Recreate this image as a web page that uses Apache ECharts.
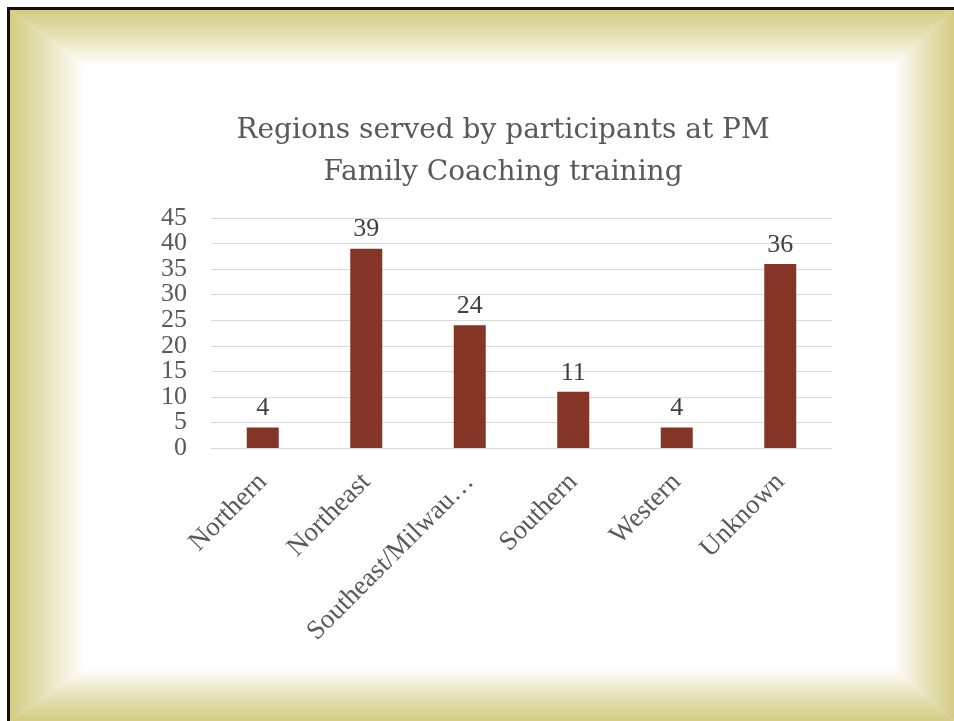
<!DOCTYPE html>
<html><head><meta charset="utf-8">
<script src="https://cdn.jsdelivr.net/npm/echarts@6/dist/echarts.min.js"></script>
<style>html,body{margin:0;padding:0;background:#fff;}#c{width:954px;height:721px;}</style>
</head><body><div id="c"></div>
<script>
const categories = ["Northern", "Northeast", "Southeast/Milwaukee", "Southern", "Western", "Unknown"];
const values = [4, 39, 24, 11, 4, 36];
const yTickLabels = ["0", "5", "10", "15", "20", "25", "30", "35", "40", "45"];
const titleText = "Regions served by participants at PM\nFamily Coaching training";

const TFONT = "'DejaVu Serif', serif";
const FONT = "'Liberation Serif', serif";
const gold = '#d4cc84';
function grad(x0,y0,x1,y1){
  return new echarts.graphic.LinearGradient(x0,y0,x1,y1,[
    {offset:0,color:gold},{offset:0.45,color:'#e6e1b6'},{offset:1,color:'#ffffff'}]);
}
const W=954,H=721,L=10,T=10,IL=85,IT=66,IR=893,IB=668;
const chart = echarts.init(document.getElementById('c'));
chart.setOption({
  animation:false,
  backgroundColor:'#fff',
  graphic:[
    {type:'polygon',z:-10,shape:{points:[[L,T],[W,T],[IR,IT],[IL,IT]]},style:{fill:grad(0,0,0,1)}},
    {type:'polygon',z:-10,shape:{points:[[L,T],[IL,IT],[IL,IB],[L,H]]},style:{fill:grad(0,0,1,0)}},
    {type:'polygon',z:-10,shape:{points:[[W,T],[W,H],[IR,IB],[IR,IT]]},style:{fill:grad(1,0,0,0)}},
    {type:'polygon',z:-10,shape:{points:[[L,H],[W,H],[IR,IB],[IL,IB]]},style:{fill:grad(0,1,0,0)}},
    {type:'rect',z:-9,shape:{x:7,y:7,width:W-7,height:3},style:{fill:'#111'}},
    {type:'rect',z:-9,shape:{x:7,y:7,width:3,height:H-7},style:{fill:'#111'}}
  ],
  title:{text:titleText,left:498,top:105,textAlign:'center',
    textStyle:{fontFamily:TFONT,fontSize:28,fontWeight:'normal',color:'#595959',lineHeight:42}},
  grid:{left:211,right:122,top:218,bottom:273,containLabel:false},
  xAxis:{type:'category',data:categories,
    axisLine:{lineStyle:{color:'#d9d9d9',width:1}},axisTick:{show:false},
    axisLabel:{rotate:45,interval:0,margin:30,fontFamily:FONT,fontSize:27,color:'#595959',
      width:228,overflow:'truncate',ellipsis:'…'}},
  yAxis:[
    {type:'value',min:0,max:45,interval:5,
      axisLine:{show:false},axisTick:{show:false},axisLabel:{show:false},
      splitLine:{lineStyle:{color:'#d9d9d9',width:1}}},
    {type:'category',data:yTickLabels,boundaryGap:false,position:'left',
      axisLine:{show:false},axisTick:{show:false},splitLine:{show:false},
      axisLabel:{interval:0,margin:24,fontFamily:FONT,fontSize:26,color:'#595959'}}
  ],
  series:[{type:'bar',data:values,barWidth:32,yAxisIndex:0,
    itemStyle:{color:'#843525'},
    label:{show:true,position:'top',distance:6,fontFamily:FONT,fontSize:26,color:'#404040'}}]
});
</script></body></html>
